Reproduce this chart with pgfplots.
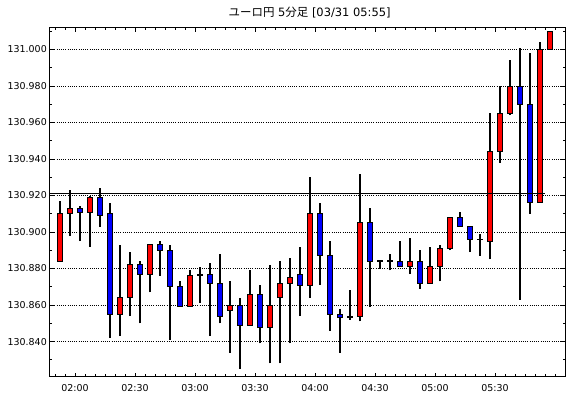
\documentclass[border=0pt]{standalone}
\usepackage{pgfplots}
\pgfplotsset{compat=1.18}
\usepackage{fontspec}
\setmainfont{DejaVu Sans}
\newfontfamily\cjk{Noto Sans CJK JP}
\definecolor{cred}{RGB}{255,0,0}
\definecolor{cblue}{RGB}{0,0,255}
\begin{document}
\begin{tikzpicture}
\useasboundingbox (-50bp,-22bp) rectangle (520bp,376.6bp);
\begin{axis}[
  at={(0,0)}, anchor=south west,
  scale only axis, width=515.3bp, height=348.6bp,
  xmin=-1, xmax=50.53, ymin=130.8208, ymax=131.0118,
  axis line style={line width=1bp},
  tick align=inside, tick pos=both,
  xtick={1.5,7.5,13.5,19.5,25.5,31.5,37.5,43.5},
  xticklabels={02:00,02:30,03:00,03:30,04:00,04:30,05:00,05:30},
  minor xtick={-0.5,0.5,...,49.5},
  ytick={130.84,130.86,130.88,130.9,130.92,130.94,130.96,130.98,131},
  minor ytick={130.83,130.85,130.87,130.89,130.91,130.93,130.95,130.97,130.99,131.01},
  scaled y ticks=false,
  ymajorgrids,
  major grid style={black, line width=0.8bp, dash pattern=on 1bp off 1.2bp},
  major tick length=4bp, minor tick length=2.5bp,
  every tick/.style={black, line width=0.8bp},
  tick label style={font=\fontsize{9.5}{11}\selectfont},
  yticklabel style={/pgf/number format/fixed, /pgf/number format/fixed zerofill, /pgf/number format/precision=3, /pgf/number format/assume math mode=true},
  yticklabel style={anchor=east, inner sep=0pt, xshift=-3bp},
  xticklabel style={anchor=north, inner sep=0pt, yshift=-8bp},
  title={{\cjk ユーロ円} 5{\cjk 分足} [03/31 05:55]},
  title style={at={(0.5,1)}, anchor=center, yshift=9.5bp, xshift=2bp, font=\fontsize{11.5}{13}\selectfont},
  unbounded coords=jump,
]
% wicks (low, high)
\addplot[black, line width=1.1bp] coordinates {
(0,130.884)(0,130.917)(0,nan)
(1,130.898)(1,130.923)(1,nan)
(2,130.895)(2,130.914)(2,nan)
(3,130.892)(3,130.920)(3,nan)
(4,130.903)(4,130.924)(4,nan)
(5,130.842)(5,130.916)(5,nan)
(6,130.843)(6,130.893)(6,nan)
(7,130.854)(7,130.889)(7,nan)
(8,130.850)(8,130.884)(8,nan)
(9,130.867)(9,130.893)(9,nan)
(10,130.876)(10,130.895)(10,nan)
(11,130.841)(11,130.893)(11,nan)
(12,130.859)(12,130.873)(12,nan)
(13,130.859)(13,130.879)(13,nan)
(14,130.861)(14,130.881)(14,nan)
(15,130.843)(15,130.883)(15,nan)
(16,130.850)(16,130.888)(16,nan)
(17,130.834)(17,130.873)(17,nan)
(18,130.825)(18,130.864)(18,nan)
(19,130.849)(19,130.879)(19,nan)
(20,130.839)(20,130.871)(20,nan)
(21,130.828)(21,130.882)(21,nan)
(22,130.828)(22,130.884)(22,nan)
(23,130.839)(23,130.886)(23,nan)
(24,130.854)(24,130.892)(24,nan)
(25,130.864)(25,130.930)(25,nan)
(26,130.871)(26,130.916)(26,nan)
(27,130.846)(27,130.895)(27,nan)
(28,130.834)(28,130.858)(28,nan)
(29,130.852)(29,130.868)(29,nan)
(30,130.851)(30,130.932)(30,nan)
(31,130.859)(31,130.913)(31,nan)
(32,130.880)(32,130.884)(32,nan)
(33,130.879)(33,130.888)(33,nan)
(34,130.881)(34,130.895)(34,nan)
(35,130.877)(35,130.897)(35,nan)
(36,130.869)(36,130.890)(36,nan)
(37,130.872)(37,130.892)(37,nan)
(38,130.873)(38,130.893)(38,nan)
(39,130.890)(39,130.908)(39,nan)
(40,130.903)(40,130.911)(40,nan)
(41,130.889)(41,130.903)(41,nan)
(42,130.887)(42,130.899)(42,nan)
(43,130.885)(43,130.965)(43,nan)
(44,130.938)(44,130.980)(44,nan)
(45,130.964)(45,130.994)(45,nan)
(46,130.863)(46,131.001)(46,nan)
(47,130.910)(47,130.998)(47,nan)
(48,130.916)(48,131.004)(48,nan)
(49,131.000)(49,131.010)
};
% rising candles (red)
\addplot[draw=black, fill=cred, line width=0.9bp] coordinates {
(-0.27,130.884)(0.27,130.884)(0.27,130.910)(-0.27,130.910)(-0.27,130.884)(0,nan)
(0.73,130.910)(1.27,130.910)(1.27,130.913)(0.73,130.913)(0.73,130.910)(1,nan)
(2.73,130.911)(3.27,130.911)(3.27,130.919)(2.73,130.919)(2.73,130.911)(3,nan)
(5.73,130.855)(6.27,130.855)(6.27,130.864)(5.73,130.864)(5.73,130.855)(6,nan)
(6.73,130.864)(7.27,130.864)(7.27,130.882)(6.73,130.882)(6.73,130.864)(7,nan)
(8.73,130.877)(9.27,130.877)(9.27,130.893)(8.73,130.893)(8.73,130.877)(9,nan)
(12.73,130.859)(13.27,130.859)(13.27,130.876)(12.73,130.876)(12.73,130.859)(13,nan)
(13.73,130.876)(14.27,130.876)(14.27,130.877)(13.73,130.877)(13.73,130.876)(14,nan)
(16.73,130.857)(17.27,130.857)(17.27,130.860)(16.73,130.860)(16.73,130.857)(17,nan)
(18.73,130.849)(19.27,130.849)(19.27,130.866)(18.73,130.866)(18.73,130.849)(19,nan)
(20.73,130.848)(21.27,130.848)(21.27,130.860)(20.73,130.860)(20.73,130.848)(21,nan)
(21.73,130.864)(22.27,130.864)(22.27,130.872)(21.73,130.872)(21.73,130.864)(22,nan)
(22.73,130.872)(23.27,130.872)(23.27,130.875)(22.73,130.875)(22.73,130.872)(23,nan)
(24.73,130.871)(25.27,130.871)(25.27,130.910)(24.73,130.910)(24.73,130.871)(25,nan)
(28.73,130.853)(29.27,130.853)(29.27,130.854)(28.73,130.854)(28.73,130.853)(29,nan)
(29.73,130.854)(30.27,130.854)(30.27,130.905)(29.73,130.905)(29.73,130.854)(30,nan)
(34.73,130.881)(35.27,130.881)(35.27,130.884)(34.73,130.884)(34.73,130.881)(35,nan)
(36.73,130.872)(37.27,130.872)(37.27,130.881)(36.73,130.881)(36.73,130.872)(37,nan)
(37.73,130.881)(38.27,130.881)(38.27,130.891)(37.73,130.891)(37.73,130.881)(38,nan)
(38.73,130.891)(39.27,130.891)(39.27,130.908)(38.73,130.908)(38.73,130.891)(39,nan)
(42.73,130.895)(43.27,130.895)(43.27,130.944)(42.73,130.944)(42.73,130.895)(43,nan)
(43.73,130.944)(44.27,130.944)(44.27,130.965)(43.73,130.965)(43.73,130.944)(44,nan)
(44.73,130.965)(45.27,130.965)(45.27,130.980)(44.73,130.980)(44.73,130.965)(45,nan)
(47.73,130.916)(48.27,130.916)(48.27,131.000)(47.73,131.000)(47.73,130.916)(48,nan)
(48.73,131.000)(49.27,131.000)(49.27,131.010)(48.73,131.010)(48.73,131.000)
};
% falling candles (blue)
\addplot[draw=black, fill=cblue, line width=0.9bp] coordinates {
(1.73,130.911)(2.27,130.911)(2.27,130.913)(1.73,130.913)(1.73,130.911)(2,nan)
(3.73,130.909)(4.27,130.909)(4.27,130.919)(3.73,130.919)(3.73,130.909)(4,nan)
(4.73,130.855)(5.27,130.855)(5.27,130.910)(4.73,130.910)(4.73,130.855)(5,nan)
(7.73,130.877)(8.27,130.877)(8.27,130.882)(7.73,130.882)(7.73,130.877)(8,nan)
(9.73,130.890)(10.27,130.890)(10.27,130.893)(9.73,130.893)(9.73,130.890)(10,nan)
(10.73,130.870)(11.27,130.870)(11.27,130.890)(10.73,130.890)(10.73,130.870)(11,nan)
(11.73,130.859)(12.27,130.859)(12.27,130.870)(11.73,130.870)(11.73,130.859)(12,nan)
(14.73,130.872)(15.27,130.872)(15.27,130.877)(14.73,130.877)(14.73,130.872)(15,nan)
(15.73,130.854)(16.27,130.854)(16.27,130.872)(15.73,130.872)(15.73,130.854)(16,nan)
(17.73,130.849)(18.27,130.849)(18.27,130.860)(17.73,130.860)(17.73,130.849)(18,nan)
(19.73,130.848)(20.27,130.848)(20.27,130.866)(19.73,130.866)(19.73,130.848)(20,nan)
(23.73,130.871)(24.27,130.871)(24.27,130.877)(23.73,130.877)(23.73,130.871)(24,nan)
(25.73,130.887)(26.27,130.887)(26.27,130.910)(25.73,130.910)(25.73,130.887)(26,nan)
(26.73,130.855)(27.27,130.855)(27.27,130.887)(26.73,130.887)(26.73,130.855)(27,nan)
(27.73,130.853)(28.27,130.853)(28.27,130.855)(27.73,130.855)(27.73,130.853)(28,nan)
(30.73,130.884)(31.27,130.884)(31.27,130.905)(30.73,130.905)(30.73,130.884)(31,nan)
(33.73,130.881)(34.27,130.881)(34.27,130.884)(33.73,130.884)(33.73,130.881)(34,nan)
(35.73,130.872)(36.27,130.872)(36.27,130.884)(35.73,130.884)(35.73,130.872)(36,nan)
(39.73,130.903)(40.27,130.903)(40.27,130.908)(39.73,130.908)(39.73,130.903)(40,nan)
(40.73,130.896)(41.27,130.896)(41.27,130.903)(40.73,130.903)(40.73,130.896)(41,nan)
(45.73,130.970)(46.27,130.970)(46.27,130.980)(45.73,130.980)(45.73,130.970)(46,nan)
(46.73,130.916)(47.27,130.916)(47.27,130.970)(46.73,130.970)(46.73,130.916)
};
% doji candles
\addplot[black, line width=1.6bp] coordinates {
(31.70,130.884)(32.30,130.884)(32,nan)
(32.70,130.884)(33.30,130.884)(33,nan)
(41.70,130.896)(42.30,130.896)
};
% reference line
\addplot[black, line width=0.9bp] coordinates {(-1,130.921)(48.5,130.921)};
\end{axis}
\end{tikzpicture}
\end{document}
